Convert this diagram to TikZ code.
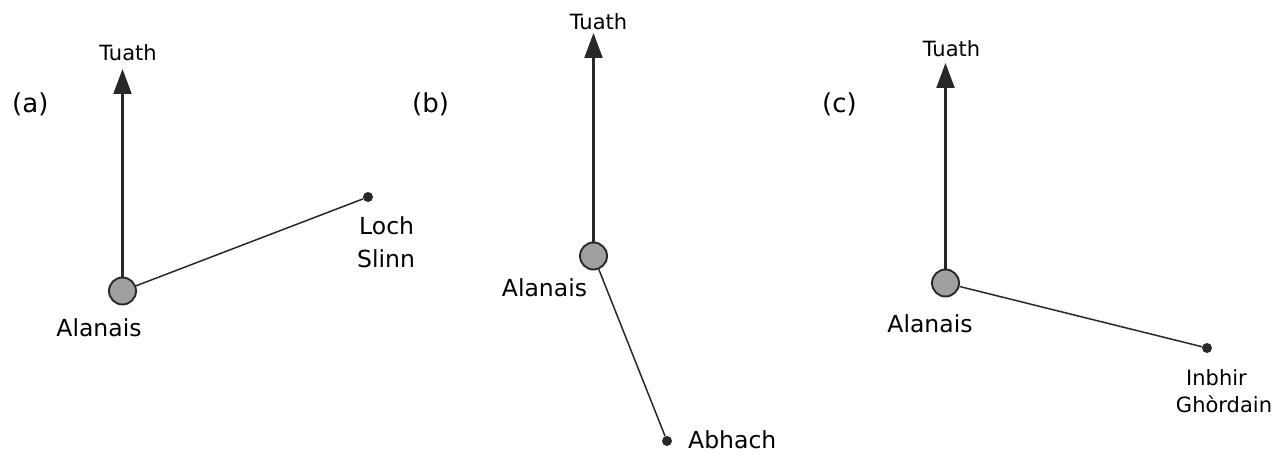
\documentclass[tikz,border=0pt]{standalone}
\usepackage{fontspec}
\setmainfont{DejaVu Sans}
\usetikzlibrary{arrows.meta}
\definecolor{hub}{RGB}{160,160,160}
\definecolor{ink}{RGB}{40,40,40}
\tikzset{
  hubnode/.style={circle,draw=ink,fill=hub,line width=1.9pt,minimum size=27pt,inner sep=0pt},
  dotnode/.style={circle,fill=ink,minimum size=10pt,inner sep=0pt},
  northarrow/.style={draw=ink,line width=2.2pt,-{Triangle[length=25pt,width=18pt]}},
  ray/.style={draw=ink,line width=1.5pt},
  lbl/.style={inner sep=0pt,text=black},
  biglbl/.style={lbl,font=\fontsize{23.5pt}{27pt}\selectfont},
  tuathlbl/.style={lbl,font=\fontsize{21pt}{24pt}\selectfont},
  panellbl/.style={lbl,font=\fontsize{26pt}{30pt}\selectfont},
  smalllbl/.style={lbl,font=\fontsize{21pt}{25pt}\selectfont}
}
\begin{document}
\begin{tikzpicture}[x=1pt,y=-1pt]
\useasboundingbox (0,0) rectangle (1277,454);
% panel (a)
\node[panellbl,anchor=base west] (pa) at (12,113) {(a)};
\node[hubnode] (ca) at (122.5,291) {};
\coordinate (ta) at (122.5,69);
\node[tuathlbl,anchor=base] (tuatha) at (128,61) {Tuath};
\draw[northarrow] (ca.north) -- (ta);
\node[dotnode] (da) at (368,197) {};
\draw[ray] (ca) -- (da);
\node[biglbl,anchor=base] (ala) at (99,336) {Alanais};
\node[biglbl,anchor=base west] (loch) at (359,235) {Loch};
\node[biglbl,anchor=base west] (slinn) at (357,268) {Slinn};
% panel (b)
\node[panellbl,anchor=base west] (pb) at (412,113) {(b)};
\node[hubnode] (cb) at (593.5,256) {};
\coordinate (tb) at (593.5,33);
\node[tuathlbl,anchor=base] (tuathb) at (598.5,30) {Tuath};
\draw[northarrow] (cb.north) -- (tb);
\node[dotnode] (db) at (667,441) {};
\draw[ray] (cb) -- (db);
\node[biglbl,anchor=base] (alb) at (544.5,297) {Alanais};
\node[biglbl,anchor=base west] (abhach) at (688,448) {Abhach};
% panel (c)
\node[panellbl,anchor=base west] (pc) at (822,113) {(c)};
\node[hubnode] (cc) at (945.5,283) {};
\coordinate (tc) at (945.5,63);
\node[tuathlbl,anchor=base] (tuathc) at (951.5,57) {Tuath};
\draw[northarrow] (cc.north) -- (tc);
\node[dotnode] (dc) at (1207,348) {};
\draw[ray] (cc) -- (dc);
\node[biglbl,anchor=base] (alc) at (930,332) {Alanais};
\node[smalllbl,anchor=base] (inbhir) at (1216.5,385) {Inbhir};
\node[smalllbl,anchor=base] (ghordain) at (1224,412) {Ghòrdain};
\end{tikzpicture}
\end{document}
